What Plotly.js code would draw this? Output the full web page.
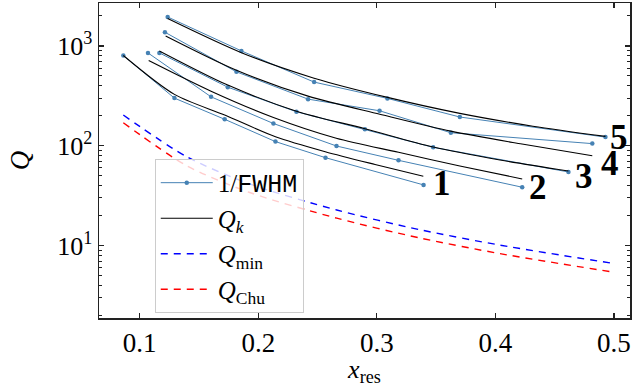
<!DOCTYPE html>
<html>
<head>
<meta charset="utf-8">
<script src="https://cdn.plot.ly/plotly-3.0.1.min.js"></script>
<style>html,body{margin:0;padding:0;background:#fff;}#chart{width:634px;height:387px;}</style>
</head>
<body>
<div id="chart"></div>
<script>
// 1/FWHM measurements (blue markers)
const fwX1 = [0.0862, 0.1293, 0.1717, 0.2145, 0.2567, 0.3394];
const fwY1 = [802, 300, 184, 110, 75.9, 40.5];
const fwX2 = [0.1070, 0.1602, 0.2128, 0.2660, 0.3183, 0.4226];
const fwY2 = [851, 309, 167, 99.3, 71.4, 38.4];
const fwX3 = [0.1166, 0.1743, 0.2322, 0.2899, 0.3475, 0.4616];
const fwY3 = [851, 386, 219, 146, 96.4, 54.6];
const fwX4 = [0.1213, 0.1816, 0.2420, 0.3023, 0.3624, 0.4817];
const fwY4 = [1371, 550, 293, 224, 135, 105];
const fwX5 = [0.1236, 0.1858, 0.2471, 0.3089, 0.3700, 0.4928];
const fwY5 = [1950, 891, 434, 298, 194, 122];

// Q_k curves (black)
const qkX1 = [0.0862, 0.1293, 0.1717, 0.2145, 0.2565, 0.2985, 0.3392];
const qkY1 = [802, 327, 203, 123, 87.1, 64.9, 49.4];
const qkX2 = [0.1076, 0.1602, 0.2128, 0.2658, 0.3183, 0.3700, 0.4226];
const qkY2 = [714, 352, 192, 119, 85.9, 62.7, 46.5];
const qkX3 = [0.1166, 0.1743, 0.2322, 0.2899, 0.3475, 0.4038, 0.4615];
const qkY3 = [891, 405, 222, 148, 97, 72, 55.8];
const qkX4 = [0.1219, 0.1816, 0.2420, 0.3025, 0.3624, 0.4224, 0.4817];
const qkY4 = [1259, 571, 314, 207, 140, 104, 79.4];
const qkX5 = [0.1236, 0.1858, 0.2471, 0.3090, 0.3700, 0.4316, 0.4928];
const qkY5 = [1879, 855, 475, 305, 211, 157, 124];

// Q_min and Q_Chu bounds
const boundX = [0.0862, 0.1397, 0.1928, 0.2662, 0.3363, 0.4038, 0.5000];
const qMin = [203, 77.6, 41.4, 22.7, 14.4, 10.1, 6.6];
const qChu = [170, 63, 34, 18.8, 11.9, 8.3, 5.4];

// Curve labels
const curveLabels = ['1', '2', '3', '4', '5'];
const labelX = [0.3553, 0.4363, 0.4743, 0.4966, 0.5042];
const labelLogY = [1.622, 1.582, 1.690, 1.825, 2.082];

const serif = 'Liberation Serif, Times New Roman, serif';
const blue = '#4682b4';

const fwXs = [fwX1, fwX2, fwX3, fwX4, fwX5];
const fwYs = [fwY1, fwY2, fwY3, fwY4, fwY5];
const qkXs = [qkX1, qkX2, qkX3, qkX4, qkX5];
const qkYs = [qkY1, qkY2, qkY3, qkY4, qkY5];

const traces = [];
for (let i = 0; i < 5; i++) {
  traces.push({
    x: fwXs[i], y: fwYs[i], type: 'scatter', mode: 'lines+markers',
    line: {color: blue, width: 1}, marker: {color: blue, size: 4.5},
    name: '1/<span style="font-family:Liberation Mono, DejaVu Sans Mono, monospace">FWHM</span>',
    legendgroup: 'fw', showlegend: i === 0
  });
}
for (let i = 0; i < 5; i++) {
  traces.push({
    x: qkXs[i], y: qkYs[i], type: 'scatter', mode: 'lines',
    line: {color: '#000', width: 1.1, shape: 'spline', smoothing: 0.8},
    name: '<i>Q</i><sub><i>k</i></sub>',
    legendgroup: 'qk', showlegend: i === 0
  });
}
traces.push({
  x: boundX, y: qMin, type: 'scatter', mode: 'lines',
  line: {color: '#0000ff', width: 1.4, dash: '7px,6px', shape: 'spline', smoothing: 0.8},
  name: '<i>Q</i><sub>min</sub>'
});
traces.push({
  x: boundX, y: qChu, type: 'scatter', mode: 'lines',
  line: {color: '#ff0000', width: 1.4, dash: '7px,6px', shape: 'spline', smoothing: 0.8},
  name: '<i>Q</i><sub>Chu</sub>'
});

const minorVals = [];
[1, 10, 100, 1000].forEach(d => { for (let k = 2; k <= 9; k++) minorVals.push(k * d); });

const annotations = curveLabels.map((t, i) => ({
  x: labelX[i], y: labelLogY[i], xref: 'x', yref: 'y', text: '<b>' + t + '</b>',
  showarrow: false, xanchor: 'center', yanchor: 'middle',
  font: {family: serif, size: 35, color: '#000'}
}));

const layout = {
  width: 634, height: 387,
  margin: {l: 99, r: 4, t: 3, b: 69},
  paper_bgcolor: '#fff', plot_bgcolor: '#fff',
  font: {family: serif, size: 26, color: '#000'},
  showlegend: true,
  legend: {
    x: 0.105, y: 0.505, xanchor: 'left', yanchor: 'top',
    bgcolor: 'rgba(255,255,255,0.8)', bordercolor: '#cccccc', borderwidth: 1,
    font: {family: serif, size: 25, color: '#000'},
    tracegroupgap: 0, itemwidth: 52
  },
  xaxis: {
    range: [0.0657, 0.5135], showgrid: false, zeroline: false,
    showline: true, linecolor: '#222', linewidth: 1.5, mirror: 'ticks',
    ticks: 'inside', ticklen: 5, tickwidth: 1.2, tickcolor: '#222',
    tickvals: [0.1, 0.2, 0.3, 0.4, 0.5], ticktext: ['0.1', '0.2', '0.3', '0.4', '0.5'],
    tickfont: {family: serif, size: 27},
    title: {text: '<i>x</i><sub>res</sub>', font: {family: serif, size: 26}, standoff: 6}
  },
  yaxis: {
    type: 'log', range: [0.274, 3.43], showgrid: false, zeroline: false,
    showline: true, linecolor: '#222', linewidth: 1.5, mirror: 'ticks',
    ticks: 'inside', ticklen: 5, tickwidth: 1.2, tickcolor: '#222',
    tickvals: [10, 100, 1000], ticktext: ['10<sup>1</sup>', '10<sup>2</sup>', '10<sup>3</sup>'],
    tickfont: {family: serif, size: 26},
    minor: {tickvals: minorVals, ticks: 'inside', ticklen: 3, tickwidth: 1, tickcolor: '#222', showgrid: false},
    title: {text: '<i>Q</i>', font: {family: serif, size: 27}, standoff: 20}
  },
  annotations: annotations
};

Plotly.newPlot('chart', traces, layout, {displayModeBar: false, staticPlot: true});
</script>
</body>
</html>
